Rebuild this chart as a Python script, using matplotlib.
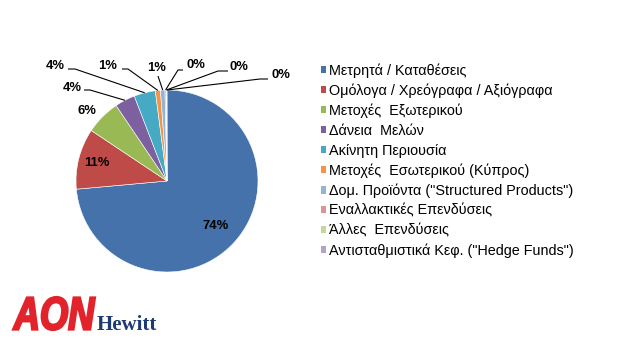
import numpy as np
import matplotlib.pyplot as plt
from matplotlib.textpath import TextPath
from matplotlib.patches import PathPatch
from matplotlib.font_manager import FontProperties
from matplotlib.transforms import Affine2D

# asset allocation shares (%)
categories = ['Μετρητά / Καταθέσεις',
              'Ομόλογα / Χρεόγραφα / Αξιόγραφα',
              'Μετοχές  Εξωτερικού',
              'Δάνεια  Μελών',
              'Ακίνητη Περιουσία',
              'Μετοχές  Εσωτερικού (Κύπρος)',
              'Δομ. Προϊόντα ("Structured Products")',
              'Εναλλακτικές Επενδύσεις',
              'Άλλες  Επενδύσεις',
              'Αντισταθμιστικά Κεφ. ("Hedge Funds")']
shares = [73.6, 10.8, 6.2, 3.6, 3.8, 0.9, 0.8, 0.2, 0.1, 0.05]
colors = ['#4672AC', '#BE4B48', '#98B954', '#7D60A0', '#46AAC5',
          '#F69446', '#95B3D7', '#D99694', '#C3D69B', '#B3A2C7']

W, H = 640, 350
fig = plt.figure(figsize=(W / 100, H / 100), dpi=100)
ax = fig.add_axes([0, 0, 1, 1])

cx, cy, R = 167, H - 181, 91
wedges, _ = ax.pie(shares, colors=colors, startangle=90, counterclock=False,
                   center=(cx, cy), radius=R,
                   wedgeprops=dict(edgecolor='white', linewidth=0.4))
ax.set_xlim(0, W)
ax.set_ylim(0, H)
ax.set_aspect('auto')
ax.axis('off')

pct = np.array(shares) / sum(shares) * 100
lbl = dict(fontsize=9.4, fontweight='bold', family='Liberation Sans',
           ha='center', va='center', color='black')

def mid_point(w, r):
    a = np.deg2rad((w.theta1 + w.theta2) / 2)
    return cx + r * np.cos(a), cy + r * np.sin(a)

# labels sitting on the two big slices
for i, rf in [(0, 0.73), (1, 0.80)]:
    x, y = mid_point(wedges[i], R * rf)
    ax.text(x, y, f'{pct[i]:.0f}%', **lbl)
ax.text(87, H - 111, f'{pct[2]:.0f}%', **lbl)

# small slices: label, elbow of the leader line
callouts = {
    3: ((72, 88), [(84, 90), (90, 90)]),
    4: ((55, 66), [(68, 69), (75, 69)]),
    5: ((108, 66), [(122, 69), (128, 69)]),
    6: ((157, 68), [(158, 76)]),
    7: ((196, 65), [(183, 70), (178, 70)]),
    8: ((239, 67), [(228, 71), (218, 71)]),
    9: ((281, 75), [(268, 79), (260, 79)]),
}
for i, ((tx, ty), elbow) in callouts.items():
    ax.text(tx, H - ty, f'{pct[i]:.0f}%', **lbl)
    ex, ey = mid_point(wedges[i], R)
    xs = [p[0] for p in elbow] + [ex]
    ys = [H - p[1] for p in elbow] + [ey]
    ax.plot(xs, ys, color='black', lw=0.8, solid_capstyle='butt')

leg = ax.legend(wedges, categories, loc='upper left',
                bbox_to_anchor=(321 / W, 1 - 63 / H), frameon=False,
                prop=dict(family='Liberation Sans', size=10.4),
                handlelength=0.38, handleheight=0.38, handletextpad=0.2,
                labelspacing=0.4, borderpad=0, borderaxespad=0)
for h in leg.legend_handles:
    h.set_linewidth(0)

# logo: squeezed heavy italic "AON" plus serif "Hewitt"
fp = FontProperties(family='Liberation Sans', weight='bold', style='italic')
tp = TextPath((0, 0), 'AON', size=48, prop=fp)
bb = tp.get_extents()
sx = 82 / bb.width
sy = 33 / bb.height
tr = Affine2D().translate(-bb.x0, -bb.y0).scale(sx, sy).translate(13, H - 330)
ax.add_patch(PathPatch(tr.transform_path(tp), facecolor='#E3232B',
                       edgecolor='#E3232B', linewidth=1.6, joinstyle='miter'))
ax.text(97, H - 330, 'Hewitt', fontsize=15, family='Liberation Serif',
        fontweight='bold', color='#1F3A73', ha='left', va='baseline')

fig.savefig('out.png', dpi=100, facecolor='white')
